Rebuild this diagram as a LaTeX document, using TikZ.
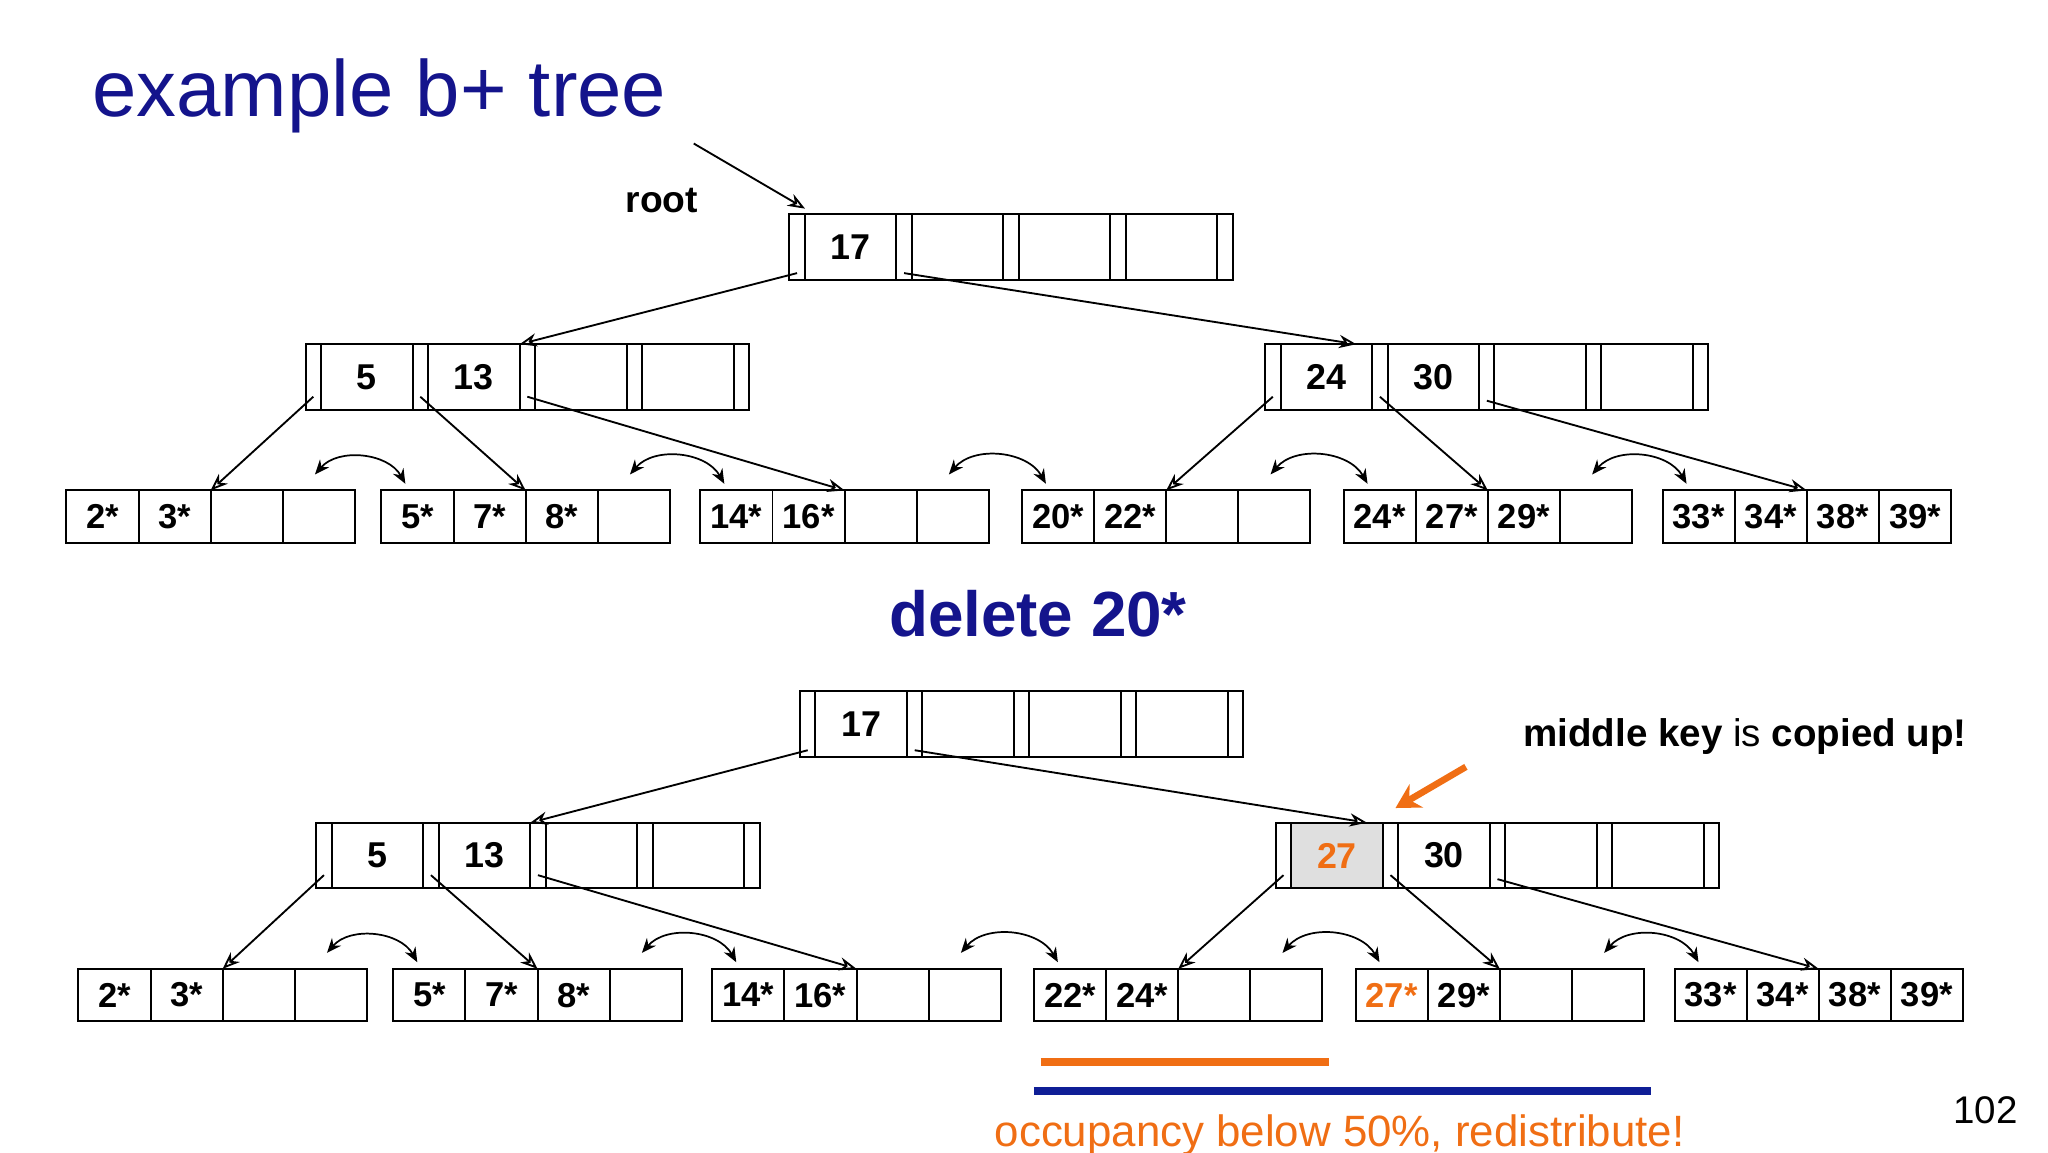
\documentclass[tikz,border=0pt]{standalone}
\usepackage{fontspec}
\setmainfont{Liberation Sans}
\usetikzlibrary{positioning,arrows.meta}
\definecolor{titleblue}{RGB}{20,20,140}
\definecolor{hiorange}{RGB}{240,110,20}
\definecolor{hilineblue}{RGB}{15,30,150}
\tikzset{
  ptr/.style={draw,line width=1.5pt,minimum width=11.5pt,minimum height=49.5pt,inner sep=0pt,outer sep=0pt},
  key/.style={draw,line width=1.5pt,minimum width=69pt,minimum height=49.5pt,inner sep=0pt,outer sep=0pt,
    font=\bfseries\fontsize{27}{30}\selectfont},
  cell/.style={draw,line width=1.5pt,minimum width=54.25pt,minimum height=39.5pt,inner sep=0pt,outer sep=0pt,
    font=\bfseries\fontsize{26}{28}\selectfont},
  down/.style={-{Stealth[length=13pt,width=10pt,open]},line width=1.4pt},
  sib/.style={{Stealth[length=11pt,width=9pt]}-{Stealth[length=11pt,width=9pt]},line width=1.3pt},
}
% internal node: name, x, y (top left), four keys
\newcommand{\inode}[7]{%
  \node[ptr,anchor=north west] (#1p0) at (#2,#3) {};
  \node[key,right=0pt of #1p0] (#1k1) {#4};
  \node[ptr,right=0pt of #1k1] (#1p1) {};
  \node[key,right=0pt of #1p1] (#1k2) {#5};
  \node[ptr,right=0pt of #1k2] (#1p2) {};
  \node[key,right=0pt of #1p2] (#1k3) {#6};
  \node[ptr,right=0pt of #1k3] (#1p3) {};
  \node[key,right=0pt of #1p3] (#1k4) {#7};
  \node[ptr,right=0pt of #1k4] (#1p4) {};}
% leaf node: name, x, y (top left), four entries
\newcommand{\leaf}[7]{%
  \node[cell,anchor=north west] (#1c1) at (#2,#3) {#4};
  \node[cell,right=0pt of #1c1] (#1c2) {#5};
  \node[cell,right=0pt of #1c2] (#1c3) {#6};
  \node[cell,right=0pt of #1c3] (#1c4) {#7};}
\newcommand{\sibs}[2]{%
  \draw[sib] ([shift={(-30,-12)}]#1c4.north east) to[bend left=55] ([shift={(18,-5)}]#2c1.north west);}
\begin{document}
\begin{tikzpicture}[x=1pt,y=-1pt]
\useasboundingbox (0,0) rectangle (1541,867);
% titles
\node[anchor=base west,text=titleblue,font=\fontsize{60}{62}\selectfont] (title) at (66,88) {example b+ tree};
\node[anchor=base,text=titleblue,font=\bfseries\fontsize{48}{50}\selectfont] (del) at (781,479) {delete 20*};
\node[anchor=base,font=\bfseries\fontsize{28}{30}\selectfont] (rootlbl) at (498,160) {root};
\coordinate (rootfrom) at (522,108);
% ---------- before ----------
\inode{T}{594}{161}{17}{}{}{}
\inode{A}{230}{259}{5}{13}{}{}
\inode{B}{952}{259}{24}{30}{}{}
\leaf{l1}{50}{369}{2*}{3*}{}{}
\leaf{l2}{287}{369}{5*}{7*}{8*}{}
\leaf{l3}{527}{369}{14*}{16*}{}{}
\leaf{l4}{769}{369}{20*}{22*}{}{}
\leaf{l5}{1011}{369}{24*}{27*}{29*}{}
\leaf{l6}{1251}{369}{33*}{34*}{38*}{39*}
\draw[down] (rootfrom) -- ([shift={(6,-4)}]Tp0.north);
\draw[down] ([yshift=5pt]Tp0.south) -- (Ak2.north east);
\draw[down] ([yshift=5pt]Tp1.south) -- ([xshift=-12pt]Bp1.north west);
\draw[down] ([yshift=10pt]Ap0.south) -- (l1c3.north west);
\draw[down] ([yshift=10pt]Ap1.south) -- (l2c3.north west);
\draw[down] ([yshift=10pt]Ap2.south) -- (l3c3.north west);
\draw[down] ([yshift=10pt]Bp0.south) -- (l4c3.north west);
\draw[down] ([yshift=10pt]Bp1.south) -- (l5c3.north west);
\draw[down] ([yshift=7pt]Bp2.south) -- (l6c3.north west);
\sibs{l1}{l2}\sibs{l2}{l3}\sibs{l3}{l4}\sibs{l4}{l5}\sibs{l5}{l6}
% ---------- after ----------
\inode{U}{602}{520}{17}{}{}{}
\inode{C}{238}{619}{5}{13}{}{}
\inode{D}{960}{619}{}{30}{}{}
\node[key,fill=gray!25,text=hiorange] at (Dk1) {27};
\leaf{m1}{59}{729}{2*}{3*}{}{}
\leaf{m2}{296}{729}{5*}{7*}{8*}{}
\leaf{m3}{536}{729}{14*}{16*}{}{}
\leaf{m4}{778}{729}{22*}{24*}{}{}
\leaf{m5}{1020}{729}{\textcolor{hiorange}{27*}}{29*}{}{}
\leaf{m6}{1260}{729}{33*}{34*}{38*}{39*}
\draw[down] ([yshift=5pt]Up0.south) -- (Ck2.north east);
\draw[down] ([yshift=5pt]Up1.south) -- ([xshift=-12pt]Dp1.north west);
\draw[down] ([yshift=10pt]Cp0.south) -- (m1c3.north west);
\draw[down] ([yshift=10pt]Cp1.south) -- (m2c3.north west);
\draw[down] ([yshift=10pt]Cp2.south) -- (m3c3.north west);
\draw[down] ([yshift=10pt]Dp0.south) -- (m4c3.north west);
\draw[down] ([yshift=10pt]Dp1.south) -- (m5c3.north west);
\draw[down] ([yshift=7pt]Dp2.south) -- (m6c3.north west);
\sibs{m1}{m2}\sibs{m2}{m3}\sibs{m3}{m4}\sibs{m4}{m5}\sibs{m5}{m6}
% annotations
\node[anchor=base,font=\fontsize{29}{31}\selectfont] (note) at (1313,562)
  {\textbf{middle key} is \textbf{copied up!}};
\coordinate (orfrom) at (1103,577);
\coordinate (orto) at (1050,608);
\draw[hiorange,line width=5pt,-{Stealth[length=18pt,width=20pt]}] (orfrom) -- (orto);
\draw[hiorange,line width=6pt] (783,799) -- (1000,799);
\draw[hilineblue,line width=6pt] (778,821) -- (1242,821);
\node[anchor=base,text=hiorange,font=\fontsize{33}{35}\selectfont] (occ) at (1008,863)
  {occupancy below 50\%, redistribute!};
\node[anchor=base,font=\fontsize{29}{31}\selectfont] (pg) at (1494,845) {102};
\end{tikzpicture}
\end{document}
